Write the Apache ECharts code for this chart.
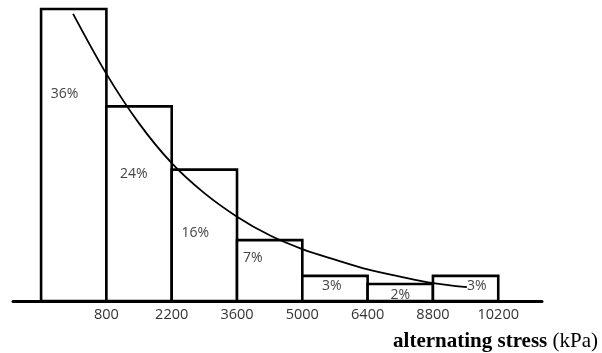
<!DOCTYPE html>
<html>
<head>
<meta charset="utf-8">
<script src="https://cdn.jsdelivr.net/npm/echarts@6/dist/echarts.min.js"></script>
<style>
  html, body { margin: 0; padding: 0; background: #fff; }
  #chart { width: 602px; height: 353px; }
</style>
</head>
<body>
<div id="chart"></div>
<script>
// bar edges sit on integer positions; labels go on the right edge of each bar
const tickLabels = ['800', '2200', '3600', '5000', '6400', '8800', '10200']
const pctLabels = ['36%', '24%', '16%', '7%', '3%', '2%', '3%']
// bar heights as drawn (percent)
const barHeights = [36, 24, 16.2, 7.5, 3.1, 2.1, 3.1]

// fitted decay curve (x in bar units, y in percent)
const curveX = [0.49, 1.0, 1.5, 2.0, 2.5, 3.0, 3.5, 4.0, 4.5, 5.0, 5.5, 6.0, 6.52]
const curveY = [35.4, 28.0, 21.9, 17.0, 13.3, 10.4, 8.1, 6.4, 5.1, 3.9, 3.0, 2.2, 1.7]

// where each percent label sits inside its bar (fraction of width, fraction of height from top)
const labelSpots = [[0.36, 0.29], [0.42, 0.35], [0.36, 0.48], [0.24, 0.30], [0.45, 0.40], [0.5, 0.65], [0.67, 0.40]]

const chart = echarts.init(document.getElementById('chart'), null, { renderer: 'canvas' })

const barData = barHeights.map((h, i) => [i, h])
const curveData = curveX.map((x, i) => [x, curveY[i]])

chart.setOption({
  animation: false,
  grid: { left: 13, right: 60, top: 0, bottom: 52 },
  xAxis: {
    type: 'value',
    min: -0.43,
    max: 7.67,
    axisLine: { show: true, lineStyle: { color: '#000', width: 3 } },
    axisTick: { show: false },
    splitLine: { show: false },
    axisLabel: {
      customValues: [1, 2, 3, 4, 5, 6, 7],
      formatter: (v) => tickLabels[Math.round(v) - 1] || '',
      color: '#333',
      fontFamily: 'Open Sans',
      fontSize: 14.5,
      margin: 6,
    },
  },
  yAxis: { type: 'value', min: 0, max: 37.11, show: false },
  series: [
    {
      type: 'custom',
      data: barData,
      z: 2,
      renderItem: (params, api) => {
        const i = api.value(0)
        const h = api.value(1)
        const p0 = api.coord([i, 0])
        const p1 = api.coord([i + 1, h])
        const w = p1[0] - p0[0]
        const ht = p0[1] - p1[1]
        const spot = labelSpots[i]
        return {
          type: 'group',
          children: [
            {
              type: 'rect',
              shape: { x: p0[0], y: p1[1], width: w, height: ht },
              style: { fill: '#fff', stroke: '#000', lineWidth: 2.6 },
            },
            {
              type: 'text',
              z2: 10,
              style: {
                text: pctLabels[i],
                x: p0[0] + w * spot[0],
                y: p1[1] + ht * spot[1],
                align: 'center',
                verticalAlign: 'middle',
                fill: '#444',
                font: '14px "Open Sans"',
              },
            },
          ],
        }
      },
    },
    {
      type: 'line',
      data: curveData,
      z: 3,
      smooth: 0.3,
      symbol: 'none',
      silent: true,
      lineStyle: { color: '#000', width: 1.8 },
    },
  ],
  graphic: [
    {
      type: 'text',
      right: 4,
      top: 331,
      style: {
        text: '{b|alternating stress }{n|(kPa)}',
        rich: {
          b: { font: 'bold 21px "Liberation Serif"', fill: '#000' },
          n: { font: '21px "Liberation Serif"', fill: '#000' },
        },
      },
    },
  ],
})
</script>
</body>
</html>
